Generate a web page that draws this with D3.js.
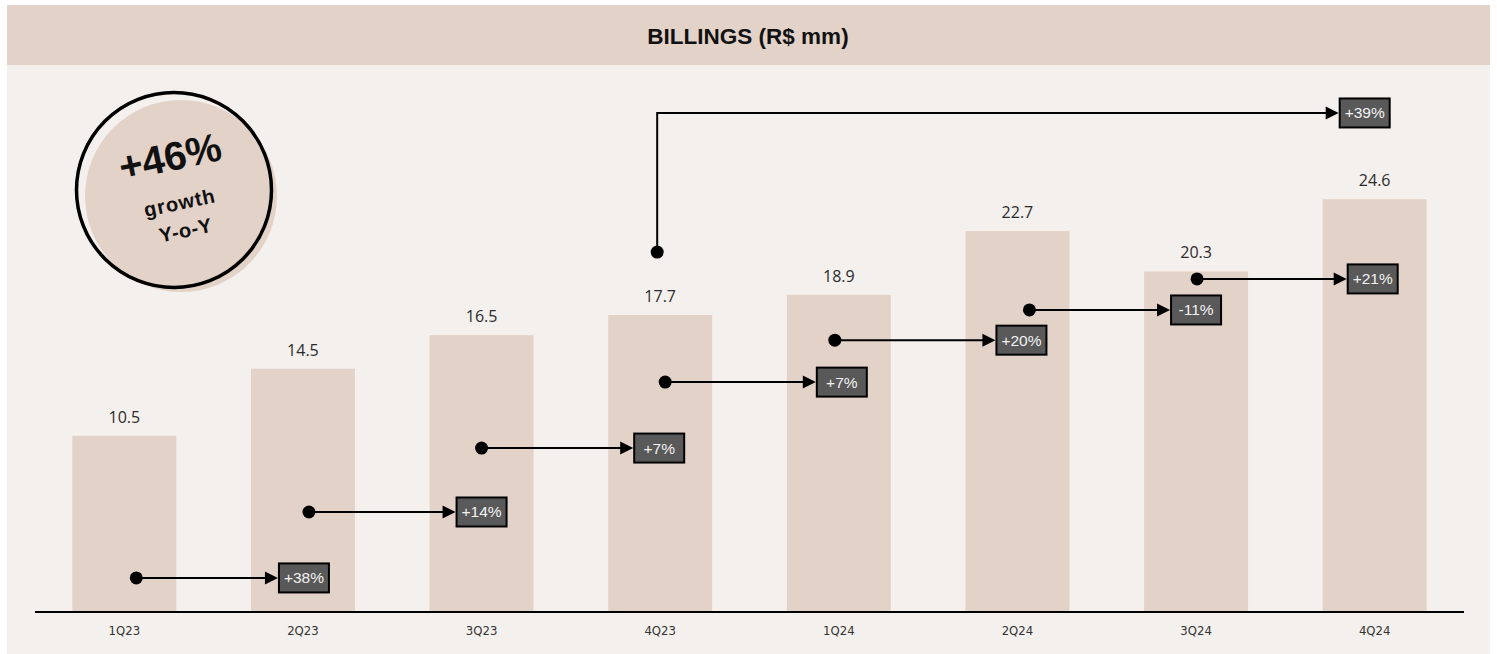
<!DOCTYPE html>
<html>
<head>
<meta charset="utf-8">
<script src="https://cdn.jsdelivr.net/npm/d3@7"></script>
<style>
  html, body { margin: 0; padding: 0; background: #ffffff; }
  svg { display: block; }
</style>
</head>
<body>
<svg id="chart" width="1497" height="654"></svg>
<script>
// ---- data ----
const title = "BILLINGS (R$ mm)";
const categories = ["1Q23", "2Q23", "3Q23", "4Q23", "1Q24", "2Q24", "3Q24", "4Q24"];
const billings = [10.5, 14.5, 16.5, 17.7, 18.9, 22.7, 20.3, 24.6];
const qoqLabels = ["+38%", "+14%", "+7%", "+7%", "+20%", "-11%", "+21%"];
const yoyLabel = "+39%";
const yoyFrom = "4Q23";
const yoyTo = "4Q24";
const badgeBig = "+46%";
const badgeLine1 = "growth";
const badgeLine2 = "Y-o-Y";

// ---- annotation layout (levels expressed in chart value units) ----
const arrowLevels = [2.03, 5.96, 9.77, 13.7, 16.2, 18.0, 19.85];
const dotOffsets = [12, 6, 0, 5, -4, 12, 1];
const tagOffsets = [1, 0, -1, 3, 4, 0, -2];
const yoyDotLevel = 21.45, yoyTopLevel = 29.74, yoyDotOffset = -3, yoyTagOffset = -10;

const C = {
  band: "#e3d2c8", panel: "#f4f0ed", bar: "#e3d2c8",
  tag: "#595959", ink: "#000000", text: "#2b2b2b"
};

const svg = d3.select("#chart");

// background panels
svg.append("rect").attr("x", 7).attr("y", 65).attr("width", 1483).attr("height", 589).attr("fill", C.panel);
svg.append("rect").attr("x", 7).attr("y", 5).attr("width", 1483).attr("height", 60).attr("fill", C.band);
svg.append("text").attr("x", 748).attr("y", 44).attr("text-anchor", "middle")
  .attr("font-family", "Liberation Sans, Arial, sans-serif").attr("font-weight", "bold")
  .attr("font-size", 22.5).attr("fill", "#111").text(title);

// scales
const x = d3.scaleBand().domain(categories).range([35, 1464]).paddingInner(0.418).paddingOuter(0.209);
const y = d3.scaleLinear().domain([0, 32]).range([612, 612 - 32 * 16.78]);
const cx = c => x(c) + x.bandwidth() / 2;

// bars
svg.append("g").selectAll("rect").data(categories).join("rect")
  .attr("x", d => x(d)).attr("width", x.bandwidth())
  .attr("y", (d, i) => y(billings[i])).attr("height", (d, i) => y(0) - y(billings[i]))
  .attr("fill", C.bar);

// value labels
svg.append("g").selectAll("text").data(categories).join("text")
  .attr("x", d => cx(d)).attr("y", (d, i) => y(billings[i]) - 13)
  .attr("text-anchor", "middle").attr("font-family", "Open Sans, Carlito, sans-serif")
  .attr("font-size", 16).attr("fill", C.text).text((d, i) => billings[i].toFixed(1));

// x axis
const xAxis = d3.axisBottom(x).tickSize(0).tickPadding(14);
const ax = svg.append("g").attr("transform", `translate(0,${y(0)})`).call(xAxis);
ax.select(".domain").attr("stroke", C.ink).attr("stroke-width", 2.2).attr("d", "M35,0H1464");
ax.selectAll("text").attr("font-family", "Liberation Sans Narrow, DejaVu Sans Condensed, Arial, sans-serif")
  .attr("font-size", 13).attr("fill", "#333");

// arrow helper
const TW = 50, TH = 29;
function tag(g, xc, yc, label) {
  g.append("rect").attr("x", xc - TW / 2).attr("y", yc - TH / 2).attr("width", TW).attr("height", TH)
    .attr("fill", C.tag).attr("stroke", C.ink).attr("stroke-width", 2);
  g.append("text").attr("x", xc).attr("y", yc + 5.5).attr("text-anchor", "middle")
    .attr("font-family", "Liberation Sans, Arial, sans-serif").attr("font-size", 15.5)
    .attr("fill", "#f2f2f2").text(label);
}
function head(g, tipX, yy) {
  g.append("path").attr("d", `M${tipX},${yy} L${tipX - 13},${yy - 6.5} L${tipX - 13},${yy + 6.5} Z`).attr("fill", C.ink);
}

const ann = svg.append("g");
qoqLabels.forEach((lab, i) => {
  const yy = y(arrowLevels[i]);
  const x0 = cx(categories[i]) + dotOffsets[i];
  const tc = cx(categories[i + 1]) + tagOffsets[i];
  const tipX = tc - TW / 2 - 1;
  ann.append("line").attr("x1", x0).attr("x2", tipX - 10).attr("y1", yy).attr("y2", yy)
    .attr("stroke", C.ink).attr("stroke-width", 2);
  head(ann, tipX, yy);
  ann.append("circle").attr("cx", x0).attr("cy", yy).attr("r", 6.5).attr("fill", C.ink);
  tag(ann, tc, yy, lab);
});

// yoy arrow
{
  const x0 = cx(yoyFrom) + yoyDotOffset;
  const yd = y(yoyDotLevel), yt = y(yoyTopLevel);
  const tc = cx(yoyTo) + yoyTagOffset;
  const tipX = tc - TW / 2 - 1;
  ann.append("path").attr("d", `M${x0},${yd} V${yt} H${tipX - 10}`).attr("fill", "none")
    .attr("stroke", C.ink).attr("stroke-width", 2);
  head(ann, tipX, yt);
  ann.append("circle").attr("cx", x0).attr("cy", yd).attr("r", 6.5).attr("fill", C.ink);
  tag(ann, tc, yt, yoyLabel);
}

// growth badge circle
const badge = svg.append("g");
badge.append("circle").attr("cx", 181).attr("cy", 196).attr("r", 96).attr("fill", C.band);
badge.append("circle").attr("cx", 174).attr("cy", 190).attr("r", 97.5).attr("fill", "none")
  .attr("stroke", C.ink).attr("stroke-width", 3.5);
const bt = badge.append("g").attr("transform", "translate(177,190) rotate(-12)");
bt.append("text").attr("x", 0).attr("y", -20).attr("text-anchor", "middle")
  .attr("font-family", "Liberation Sans, Arial, sans-serif").attr("font-weight", "bold")
  .attr("font-size", 40).attr("fill", "#111").text(badgeBig);
bt.append("text").attr("x", 0).attr("y", 20).attr("text-anchor", "middle")
  .attr("font-family", "Liberation Sans, Arial, sans-serif").attr("font-weight", "bold")
  .attr("font-size", 20).attr("letter-spacing", 1).attr("fill", "#111").text(badgeLine1);
bt.append("text").attr("x", 0).attr("y", 48).attr("text-anchor", "middle")
  .attr("font-family", "Liberation Sans, Arial, sans-serif").attr("font-weight", "bold")
  .attr("font-size", 20).attr("letter-spacing", 0.5).attr("fill", "#111").text(badgeLine2);
</script>
</body>
</html>
